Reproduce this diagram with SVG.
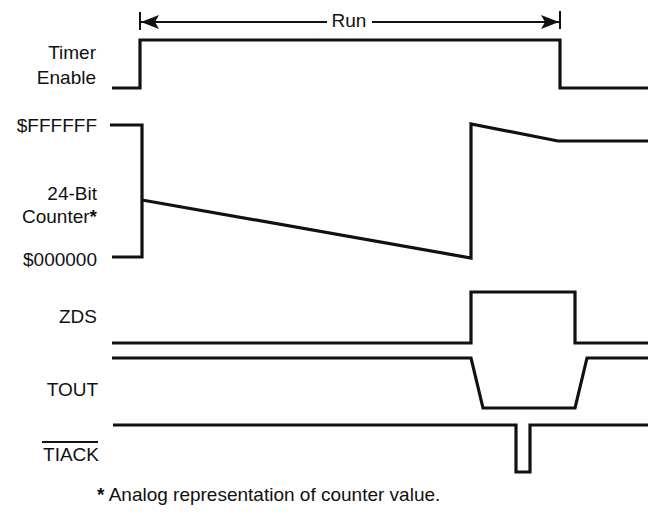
<svg xmlns="http://www.w3.org/2000/svg" width="648" height="523" viewBox="0 0 648 523">
<style>
text{font-family:"Liberation Sans",Arial,sans-serif;font-size:19px;fill:#111}
.lbl{text-anchor:end}
.ast{font-weight:bold}
.sig{fill:none;stroke:#111;stroke-width:3.2;stroke-linejoin:miter}
.thin{fill:none;stroke:#111;stroke-width:2}
</style>
<defs>
<marker id="ah" viewBox="0 0 18 14" refX="18" refY="7" markerWidth="18" markerHeight="14" markerUnits="userSpaceOnUse" orient="auto-start-reverse">
<path d="M0,0 L18,7 L0,14 L4,7 Z" fill="#111"/>
</marker>
</defs>
<rect width="648" height="523" fill="#fff"/>
<g id="run">
<line class="thin" x1="140" y1="12" x2="140" y2="30"/>
<line class="thin" x1="560" y1="11" x2="560" y2="29"/>
<line class="thin" x1="141" y1="22" x2="327" y2="22" marker-start="url(#ah)"/>
<line class="thin" x1="372" y1="22" x2="559" y2="22" marker-end="url(#ah)"/>
<text x="349" y="27" text-anchor="middle">Run</text>
</g>
<g id="timer-enable">
<text class="lbl" x="96" y="59">Timer</text>
<text class="lbl" x="96" y="84">Enable</text>
</g>
<g id="counter">
<text class="lbl" x="97" y="132">$FFFFFF</text>
<text class="lbl" x="97" y="200">24-Bit</text>
<text class="lbl" x="97" y="223">Counter<tspan class="ast">*</tspan></text>
<text class="lbl" x="97" y="266">$000000</text>
</g>
<g id="zds"><text class="lbl" x="97" y="323">ZDS</text></g>
<g id="tout"><text class="lbl" x="98" y="396">TOUT</text></g>
<g id="tiack">
<text class="lbl" x="99" y="461">TIACK</text>
<line class="thin" x1="42" y1="442" x2="98" y2="442"/>
</g>
<g id="connectors">
<polyline class="sig" points="112,88 140,88 140,40 560,40 560,88 648,88"/>
<polyline class="sig" points="110,125 142,125 142,257 112,257"/>
<polyline class="sig" points="142,200 471,258 471,124 558,141 648,141"/>
<polyline class="sig" points="112,343 471,343 471,292 575,292 575,343 648,343"/>
<polyline class="sig" points="112,358 471,358 483,408 575,408 587,358 648,358"/>
<polyline class="sig" points="113,425 516,425 516,472 530,472 530,425 648,425"/>
</g>
<text x="97" y="501"><tspan class="ast">*</tspan> Analog representation of counter value.</text>
</svg>
